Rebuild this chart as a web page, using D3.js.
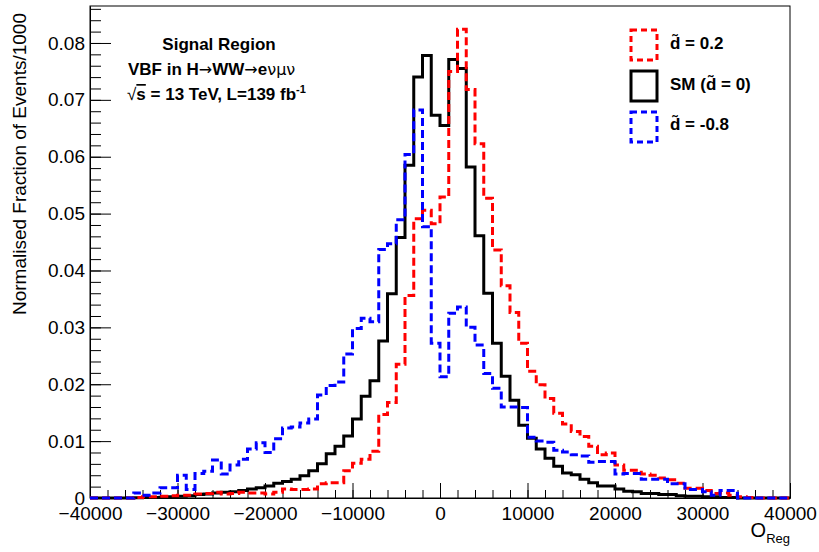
<!DOCTYPE html>
<html lang="en">
<head>
  <meta charset="utf-8">
  <title>O_Reg distribution</title>
  <style>
    body { margin: 0; background: #fff; }
    svg { display: block; font-family: "Liberation Sans", Arial, sans-serif; }
    .axis text { font-size: 19px; fill: #000; }
    .axis line, .axis path { stroke: #000; }
    .bold { font-weight: bold; font-size: 17px; }
    .sym { font-family: "DejaVu Sans", sans-serif; font-weight: normal; font-size: 16px; }
  </style>
</head>
<body>
  <div id="chart"></div>
  <script src="https://d3js.org/d3.v7.min.js"></script>
  <script>
    // Binning: 80 bins of 1000 from -40000 to 40000
    var xMin = -40000, xMax = 40000, binWidth = 1000;

    // SM (d~ = 0), black solid
    var smValues = [
      0, 0, 0, 0, 0, 0.00005, 0.0001, 0.0001, 0.00015, 0.0002,
      0.0003, 0.0004, 0.0006, 0.0007, 0.0009, 0.001, 0.0011, 0.0013, 0.0016, 0.0018,
      0.0021, 0.0026, 0.0029, 0.0033, 0.0039, 0.0048, 0.006, 0.0078, 0.0091, 0.0109,
      0.0139, 0.0179, 0.0206, 0.0276, 0.0359, 0.0458, 0.0585, 0.074, 0.0778, 0.0673,
      0.0655, 0.0771, 0.0755, 0.0582, 0.0461, 0.036, 0.0272, 0.0214, 0.0172, 0.0128,
      0.0105, 0.0086, 0.007, 0.0056, 0.0044, 0.0041, 0.0033, 0.0027, 0.0021, 0.0021,
      0.0016, 0.0012, 0.0011, 0.0008, 0.0008, 0.0006, 0.0006, 0.0004, 0.0003, 0.0003,
      0.0002, 0.0002, 0.0001, 0.0001, 0, 0, 0, 0, 0, 0
    ];

    // d~ = 0.2, red dashed
    var dPlusValues = [
      0, 0, 0, 0, 0, 0.0001, 0.0002, 0.0002, 0.0003, 0.0004,
      0.0005, 0.0005, 0.0007, 0.0008, 0.001, 0.0007, 0.0008, 0.001, 0.0009, 0.0009,
      0.0007, 0.001, 0.0016, 0.0015, 0.0015, 0.0016, 0.0025, 0.0027, 0.0027, 0.0048,
      0.0061, 0.0068, 0.0082, 0.0147, 0.0168, 0.0235, 0.0356, 0.0491, 0.0506, 0.0482,
      0.0529, 0.075, 0.0824, 0.0718, 0.0623, 0.0527, 0.0436, 0.0373, 0.0326, 0.0272,
      0.0223, 0.0199, 0.0175, 0.0149, 0.013, 0.0117, 0.0108, 0.0091, 0.0076, 0.0079,
      0.0058, 0.0049, 0.0049, 0.0042, 0.004, 0.0035, 0.0032, 0.0026, 0.0017, 0.0017,
      0.0013, 0.0008, 0.0009, 0.0005, 0.0002, 0.0001, 0, 0, 0, 0
    ];

    // d~ = -0.8, blue dashed
    var dMinusValues = [
      0, 0, 0, 0, 0, 0.0009, 0.0005, 0.0009, 0.0018, 0.0018,
      0.004, 0.0015, 0.0043, 0.0047, 0.0067, 0.0042, 0.0058, 0.0068, 0.0086, 0.0097,
      0.008, 0.0104, 0.0123, 0.0125, 0.0132, 0.0139, 0.0181, 0.0198, 0.0204, 0.0253,
      0.0298, 0.0316, 0.031, 0.0437, 0.0447, 0.0489, 0.0604, 0.0682, 0.0477, 0.0272,
      0.0213, 0.0325, 0.0336, 0.03, 0.0269, 0.0219, 0.0193, 0.016, 0.016, 0.0159,
      0.0107, 0.01, 0.0098, 0.0084, 0.0081, 0.0076, 0.0074, 0.0063, 0.0064, 0.0064,
      0.0042, 0.0043, 0.0043, 0.0033, 0.0033, 0.0033, 0.0025, 0.0025, 0.0015, 0.0015,
      0.0011, 0.0005, 0.0013, 0.0013, 0, 0, 0, 0, 0, 0
    ];

    var xTicks = [-40000, -30000, -20000, -10000, 0, 10000, 20000, 30000, 40000];
    var yTicks = [0, 0.01, 0.02, 0.03, 0.04, 0.05, 0.06, 0.07, 0.08];
    var yMax = 0.0865;

    var legendLabels = ["d\u0303 = 0.2", "SM (d\u0303 = 0)", "d\u0303 = -0.8"];

    // chart layout
    var W = 819, H = 552;
    var frame = { left: 90, right: 790, top: 6, bottom: 498 };

    var svg = d3.select("#chart").append("svg")
      .attr("width", W)
      .attr("height", H);

    var x = d3.scaleLinear().domain([xMin, xMax]).range([frame.left, frame.right]);
    var y = d3.scaleLinear().domain([0, yMax]).range([frame.bottom, frame.top]);

    // minor ticks
    var xMinor = d3.range(xMin, xMax + 1, 2000);
    var yMinor = d3.range(0, yMax, 0.002);

    svg.append("g")
      .attr("class", "axis")
      .attr("transform", "translate(0," + frame.bottom + ")")
      .call(d3.axisTop(x).tickValues(xMinor).tickSize(8).tickSizeOuter(0).tickFormat(""));
    svg.append("g")
      .attr("class", "axis")
      .attr("transform", "translate(0," + frame.bottom + ")")
      .call(d3.axisTop(x).tickValues(xTicks).tickSize(15).tickSizeOuter(0).tickFormat(""));
    var xLab = svg.append("g")
      .attr("class", "axis")
      .attr("transform", "translate(0," + frame.bottom + ")")
      .call(d3.axisBottom(x).tickValues(xTicks).tickSize(0).tickPadding(9).tickFormat(d3.format("d")));
    xLab.select(".domain").remove();

    svg.append("g")
      .attr("class", "axis")
      .attr("transform", "translate(" + frame.left + ",0)")
      .call(d3.axisRight(y).tickValues(yMinor).tickSize(11).tickSizeOuter(0).tickFormat(""));
    svg.append("g")
      .attr("class", "axis")
      .attr("transform", "translate(" + frame.left + ",0)")
      .call(d3.axisRight(y).tickValues(yTicks).tickSize(21).tickSizeOuter(0).tickFormat(""));
    var yLab = svg.append("g")
      .attr("class", "axis")
      .attr("transform", "translate(" + frame.left + ",0)")
      .call(d3.axisLeft(y).tickValues(yTicks).tickSize(0).tickPadding(5)
        .tickFormat(function (d) { return d === 0 ? "0" : d.toFixed(2); }));
    yLab.select(".domain").remove();

    // frame
    svg.append("rect")
      .attr("x", frame.left).attr("y", frame.top)
      .attr("width", frame.right - frame.left)
      .attr("height", frame.bottom - frame.top)
      .attr("fill", "none").attr("stroke", "#000").attr("stroke-width", 1);

    // histogram outline
    function histPath(values) {
      var pts = [[xMin, 0]];
      values.forEach(function (v, i) {
        var lo = xMin + i * binWidth;
        pts.push([lo, v], [lo + binWidth, v]);
      });
      pts.push([xMax, 0]);
      return d3.line().x(function (d) { return x(d[0]); }).y(function (d) { return y(d[1]); })(pts);
    }

    var series = [
      { values: smValues, color: "#000", dash: null },
      { values: dPlusValues, color: "#ff0000", dash: "8,4" },
      { values: dMinusValues, color: "#0000ff", dash: "8,4" }
    ];

    series.forEach(function (s) {
      svg.append("path")
        .attr("d", histPath(s.values))
        .attr("fill", "none")
        .attr("stroke", s.color)
        .attr("stroke-width", 3)
        .attr("stroke-dasharray", s.dash);
    });

    // axis titles
    svg.append("text")
      .attr("transform", "translate(26,13) rotate(-90)")
      .attr("text-anchor", "end")
      .style("font-size", "19px")
      .text("Normalised Fraction of Events/1000");

    var xt = svg.append("text")
      .attr("x", frame.right).attr("y", 537)
      .attr("text-anchor", "end")
      .style("font-size", "20px");
    xt.append("tspan").text("O");
    xt.append("tspan").attr("dy", 6).style("font-size", "13px").text("Reg");

    // labels
    svg.append("text").attr("class", "bold")
      .attr("x", 219).attr("y", 50).attr("text-anchor", "middle")
      .text("Signal Region");

    var l2 = svg.append("text").attr("class", "bold").attr("x", 128).attr("y", 75);
    l2.append("tspan").text("VBF in H");
    l2.append("tspan").attr("class", "sym").text("\u2192");
    l2.append("tspan").text("WW");
    l2.append("tspan").attr("class", "sym").text("\u2192");
    l2.append("tspan").text("e");
    l2.append("tspan").attr("class", "sym").text("\u03bd\u03bc\u03bd");

    var l3 = svg.append("text").attr("class", "bold").attr("x", 127).attr("y", 100);
    l3.append("tspan").style("font-weight", "normal").text("\u221a");
    l3.append("tspan").style("text-decoration", "overline").text("s");
    l3.append("tspan").text(" = 13 TeV, L=139 fb");
    l3.append("tspan").attr("dy", -7).style("font-size", "11px").text("-1");

    // legend
    var legendColors = ["#ff0000", "#000", "#0000ff"];
    var legendDash = ["6,4", null, "6,4"];
    var legend = svg.append("g");
    legendLabels.forEach(function (lab, i) {
      var cy = 45 + i * 41;
      legend.append("rect")
        .attr("x", 631).attr("y", cy - 15)
        .attr("width", 26).attr("height", 30)
        .attr("fill", "none")
        .attr("stroke", legendColors[i])
        .attr("stroke-width", 3)
        .attr("stroke-dasharray", legendDash[i]);
      legend.append("text").attr("class", "bold")
        .attr("x", 670).attr("y", cy + 4 - (i === 2 ? 1 : 0))
        .text(lab);
    });
  </script>
</body>
</html>
